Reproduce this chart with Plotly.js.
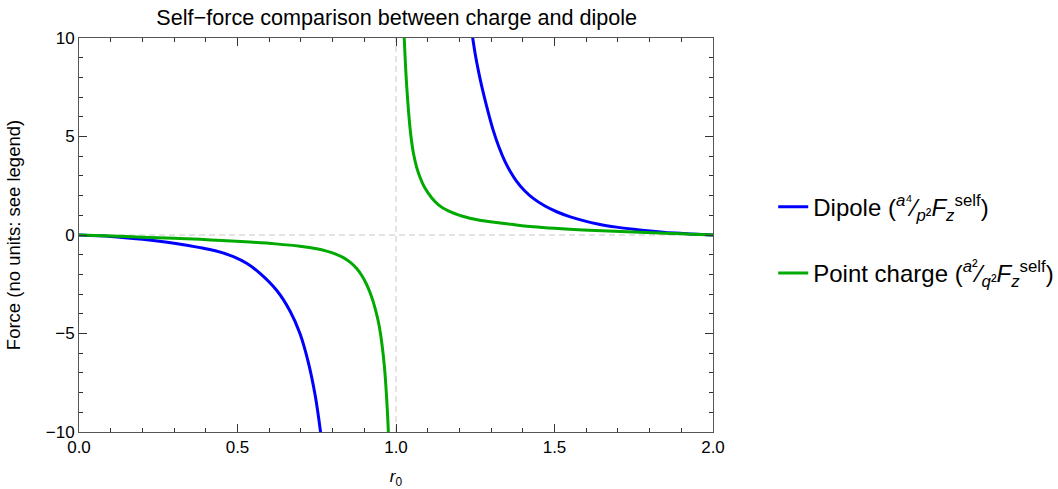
<!DOCTYPE html>
<html>
<head>
<meta charset="utf-8">
<script src="https://cdn.plot.ly/plotly-3.0.1.min.js"></script>
<style>html,body{margin:0;padding:0;background:#fff;}#chart{width:1058px;height:489px;}</style>
</head>
<body>
<div id="chart"></div>
<script>
// r0 values and self-force readings
var dipoleInnerR = [0, 0.1, 0.2, 0.3, 0.382, 0.43, 0.487, 0.53, 0.571, 0.624, 0.666, 0.697, 0.723, 0.745, 0.762, 0.77];
var dipoleInnerF = [0, -0.07, -0.22, -0.42, -0.64, -0.80, -1.10, -1.45, -1.95, -2.82, -3.87, -5.0, -6.44, -8.14, -10.0, -11.1];
var dipoleOuterR = [1.237, 1.242, 1.25, 1.26, 1.27, 1.281, 1.294, 1.307, 1.325, 1.344, 1.36, 1.38, 1.405, 1.433, 1.47, 1.507, 1.55, 1.591, 1.64, 1.696, 1.75, 1.801, 1.85, 1.906, 1.95, 2.0];
var dipoleOuterF = [10.55, 10.0, 9.18, 8.33, 7.58, 6.85, 6.04, 5.3, 4.45, 3.72, 3.24, 2.74, 2.26, 1.86, 1.47, 1.18, 0.92, 0.73, 0.55, 0.40, 0.29, 0.20, 0.13, 0.075, 0.035, 0.0];
var chargeInnerR = [0, 0.1, 0.2, 0.3, 0.382, 0.45, 0.539, 0.62, 0.697, 0.75, 0.781, 0.81, 0.834, 0.855, 0.876, 0.893, 0.907, 0.918, 0.928, 0.937, 0.944, 0.951, 0.958, 0.963, 0.967, 0.972, 0.976, 0.979];
var chargeInnerF = [0, -0.05, -0.11, -0.17, -0.22, -0.28, -0.36, -0.45, -0.57, -0.70, -0.82, -0.97, -1.15, -1.38, -1.70, -2.08, -2.50, -2.92, -3.38, -3.9, -4.38, -5.0, -5.85, -6.6, -7.4, -8.7, -10.0, -11.3];
var chargeOuterR = [1.023, 1.026, 1.030, 1.034, 1.041, 1.048, 1.055, 1.065, 1.076, 1.09, 1.113, 1.135, 1.165, 1.21, 1.26, 1.328, 1.37, 1.433, 1.5, 1.591, 1.67, 1.749, 1.83, 1.906, 1.96, 2.0];
var chargeOuterF = [11.3, 10.0, 8.6, 7.5, 6.0, 4.9, 4.15, 3.45, 2.92, 2.42, 1.88, 1.52, 1.22, 0.95, 0.76, 0.61, 0.53, 0.42, 0.34, 0.26, 0.2, 0.15, 0.1, 0.06, 0.025, 0.0];

var xTickVals = [0, 0.5, 1.0, 1.5, 2.0];
var xTickText = ['0.0', '0.5', '1.0', '1.5', '2.0'];
var yTickVals = [-10, -5, 0, 5, 10];
var yTickText = ['\u221210', '\u22125', '0', '5', '10'];

var dipoleName = 'Dipole (<sup><i>a</i>\u2074</sup>\u2044<sub><i>p</i>\u00b2</sub><i>F</i><sub><i>z</i></sub><sup>self</sup>)';
var chargeName = 'Point charge (<sup><i>a</i>\u00b2</sup>\u2044<sub><i>q</i>\u00b2</sub><i>F</i><sub><i>z</i></sub><sup>self</sup>)';

var FONT = 'Liberation Sans, Arial, sans-serif';

var traces = [
  {
    x: dipoleInnerR.concat([null], dipoleOuterR),
    y: dipoleInnerF.concat([null], dipoleOuterF),
    mode: 'lines', name: dipoleName, legendgroup: 'd',
    line: {color: '#0000ff', width: 3, shape: 'spline', smoothing: 0.8},
    connectgaps: false, cliponaxis: true
  },
  {
    x: chargeInnerR.concat([null], chargeOuterR),
    y: chargeInnerF.concat([null], chargeOuterF),
    mode: 'lines', name: chargeName, legendgroup: 'c',
    line: {color: '#00aa00', width: 3, shape: 'spline', smoothing: 0.8},
    connectgaps: false, cliponaxis: true
  }
];

var layout = {
  width: 1058, height: 489,
  margin: {l: 79, r: 345, t: 38, b: 57, pad: 0, autoexpand: false},
  paper_bgcolor: '#ffffff', plot_bgcolor: '#ffffff',
  font: {family: FONT, color: '#000000', size: 16},
  title: {text: 'Self\u2212force comparison between charge and dipole', x: 0.375, xanchor: 'center', y: 0.965, yanchor: 'middle', font: {size: 21.6, family: FONT, color: '#000'}},
  showlegend: true,
  legend: {x: 1.095, xanchor: 'left', y: 0.487, yanchor: 'middle', font: {size: 24, family: FONT}, tracegroupgap: 32, bgcolor: 'rgba(0,0,0,0)'},
  xaxis: {
    range: [0, 2], tickvals: xTickVals, ticktext: xTickText,
    showgrid: false, zeroline: false, showline: true, linecolor: '#555555', linewidth: 1, mirror: 'allticks',
    ticks: 'inside', ticklen: 8, tickwidth: 1, tickcolor: '#333333',
    minor: {dtick: 0.1, tick0: 0, ticks: 'inside', ticklen: 4, tickwidth: 1, tickcolor: '#333333', showgrid: false},
    tickfont: {size: 17, family: FONT, color: '#000'},
    title: {text: '<i>r</i><sub>0</sub>', font: {size: 17, family: FONT, color: '#000'}, standoff: 16}
  },
  yaxis: {
    range: [-10, 10], tickvals: yTickVals, ticktext: yTickText,
    showgrid: false, zeroline: false, showline: true, linecolor: '#555555', linewidth: 1, mirror: 'allticks',
    ticks: 'inside', ticklen: 8, tickwidth: 1, tickcolor: '#333333',
    minor: {dtick: 1, tick0: 0, ticks: 'inside', ticklen: 4, tickwidth: 1, tickcolor: '#333333', showgrid: false},
    tickfont: {size: 17, family: FONT, color: '#000'},
    title: {text: 'Force (no units: see legend)', font: {size: 18.5, family: FONT, color: '#000'}, standoff: 20}
  },
  shapes: [
    {type: 'line', xref: 'x', yref: 'paper', x0: 1, x1: 1, y0: 0, y1: 1, layer: 'below', line: {color: '#c8c8c8', width: 1, dash: '6px,4px'}},
    {type: 'line', xref: 'paper', yref: 'y', x0: 0, x1: 1, y0: 0, y1: 0, layer: 'below', line: {color: '#c8c8c8', width: 1, dash: '6px,4px'}}
  ]
};

Plotly.newPlot('chart', traces, layout, {displayModeBar: false, staticPlot: true});
</script>
</body>
</html>
